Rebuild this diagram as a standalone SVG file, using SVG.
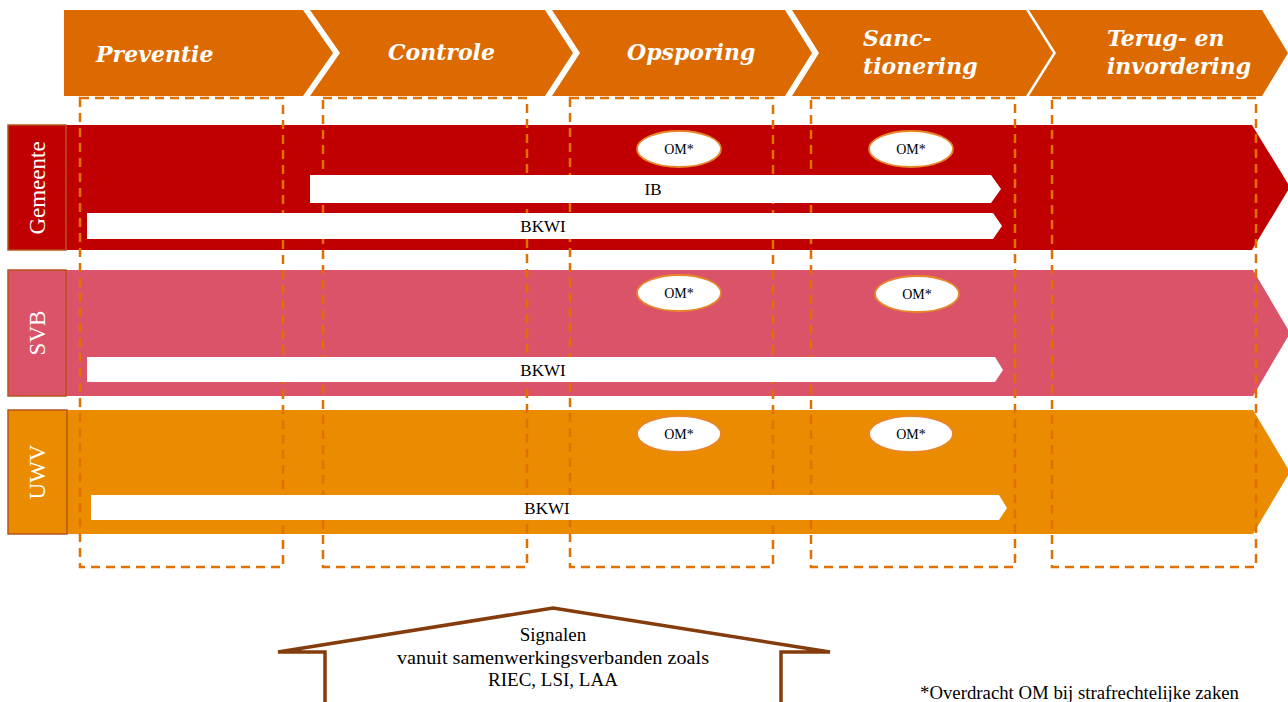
<svg xmlns="http://www.w3.org/2000/svg" width="1288" height="702" viewBox="0 0 1288 702">
<style>
.hdr{fill:#DC6A00}
.htxt{font-family:"DejaVu Serif","Liberation Serif",serif;font-weight:bold;font-style:italic;font-size:22px;fill:#FFFFFF}
.lbl{font-family:"Liberation Serif",serif;font-size:23px;fill:#FFFFFF}
.box{fill:none;stroke:#E07000;stroke-width:2.5;stroke-dasharray:9,6}
.bar{fill:#FFFFFF}
.btxt{font-family:"Liberation Serif",serif;font-size:17px;fill:#000000}
.om{fill:#FFFFFF;stroke:#E8862A;stroke-width:1.8}
.omt{font-family:"Liberation Serif",serif;font-size:14px;fill:#000000}
.house{fill:none;stroke:#843C0C;stroke-width:3.5;stroke-linejoin:miter}
.ht{font-family:"Liberation Serif",serif;font-size:19px;fill:#000000}
</style>
<rect width="1288" height="702" fill="#FFFFFF"/>

<g id="header">
  <g id="phase-preventie">
    <polygon class="hdr" points="64,10 303,10 333,53 303,96 64,96"/>
    <text class="htxt" x="96" y="62">Preventie</text>
  </g>
  <g id="phase-controle">
    <polygon class="hdr" points="310,10 545,10 573,53 545,96 310,96 340,53"/>
    <text class="htxt" x="388" y="60">Controle</text>
  </g>
  <g id="phase-opsporing">
    <polygon class="hdr" points="552,10 785,10 812,53 785,96 552,96 580,53"/>
    <text class="htxt" x="627" y="60">Opsporing</text>
  </g>
  <g id="phase-sanctionering">
    <polygon class="hdr" points="792,10 1026,10 1053,53 1026,96 792,96 819,53"/>
    <text class="htxt" x="863" y="46">Sanc-</text>
    <text class="htxt" x="863" y="74">tionering</text>
  </g>
  <g id="phase-terug">
    <polygon class="hdr" points="1029,10 1262,10 1288,53 1262,96 1029,96 1056,53"/>
    <text class="htxt" x="1107" y="46">Terug- en</text>
    <text class="htxt" x="1107" y="74">invordering</text>
  </g>
</g>

<g id="lanes">
  <g id="lane-gemeente">
    <polygon fill="#C00000" points="66,125 1252,125 1290,187 1252,250 66,250"/>
    <rect x="8" y="125" width="58" height="125" fill="#C00000" stroke="#B5541B" stroke-width="1.5"/>
    <text class="lbl" transform="translate(45,188) rotate(-90)" text-anchor="middle">Gemeente</text>
  </g>
  <g id="lane-svb">
    <polygon fill="#DB5369" points="66,270 1253,270 1290,333 1253,396 66,396"/>
    <rect x="8" y="270" width="58" height="126" fill="#DB5369" stroke="#B5541B" stroke-width="1.5"/>
    <text class="lbl" transform="translate(45,333) rotate(-90)" text-anchor="middle">SVB</text>
  </g>
  <g id="lane-uwv">
    <polygon fill="#EB8C00" points="66,410 1253,410 1290,472 1253,534 66,534"/>
    <rect x="8" y="410" width="59" height="124" fill="#EB8C00" stroke="#B5541B" stroke-width="1.5"/>
    <text class="lbl" transform="translate(45,472) rotate(-90)" text-anchor="middle">UWV</text>
  </g>
</g>

<g id="phase-boxes">
  <rect class="box" x="80" y="98" width="203" height="469"/>
  <rect class="box" x="323" y="98" width="204" height="469"/>
  <rect class="box" x="570" y="98" width="203" height="469"/>
  <rect class="box" x="811" y="98" width="204" height="469"/>
  <rect class="box" x="1052" y="98" width="204" height="469"/>
</g>

<g id="connectors">
  <g id="bar-gemeente-ib">
    <polygon class="bar" points="310,175 991,175 1001,189 991,203 310,203"/>
    <text class="btxt" x="653" y="195" text-anchor="middle">IB</text>
  </g>
  <g id="bar-gemeente-bkwi">
    <polygon class="bar" points="87,213 993,213 1002,226 993,239 87,239"/>
    <text class="btxt" x="543" y="232" text-anchor="middle">BKWI</text>
  </g>
  <g id="bar-svb-bkwi">
    <polygon class="bar" points="87,357 995,357 1003,370 995,382 87,382"/>
    <text class="btxt" x="543" y="376" text-anchor="middle">BKWI</text>
  </g>
  <g id="bar-uwv-bkwi">
    <polygon class="bar" points="91,495 999,495 1007,508 999,520 91,520"/>
    <text class="btxt" x="547" y="514" text-anchor="middle">BKWI</text>
  </g>
</g>

<g id="om-nodes">
  <g id="om-g1"><ellipse class="om" cx="679" cy="149" rx="42" ry="18"/><text class="omt" x="679" y="154" text-anchor="middle">OM*</text></g>
  <g id="om-g2"><ellipse class="om" cx="911" cy="149" rx="42" ry="18"/><text class="omt" x="911" y="154" text-anchor="middle">OM*</text></g>
  <g id="om-s1"><ellipse class="om" cx="679" cy="293" rx="42" ry="18"/><text class="omt" x="679" y="298" text-anchor="middle">OM*</text></g>
  <g id="om-s2"><ellipse class="om" cx="917" cy="294" rx="42" ry="18"/><text class="omt" x="917" y="299" text-anchor="middle">OM*</text></g>
  <g id="om-u1"><ellipse class="om" cx="679" cy="434" rx="42" ry="18"/><text class="omt" x="679" y="439" text-anchor="middle">OM*</text></g>
  <g id="om-u2"><ellipse class="om" cx="911" cy="434" rx="42" ry="18"/><text class="omt" x="911" y="439" text-anchor="middle">OM*</text></g>
</g>

<g id="signalen">
  <path class="house" d="M325,702 L325,652 L278,652 L553,608 L830,652 L781,652 L781,702"/>
  <text class="ht" x="553" y="641" text-anchor="middle">Signalen</text>
  <text class="ht" x="553" y="664" text-anchor="middle" textLength="312" lengthAdjust="spacingAndGlyphs">vanuit samenwerkingsverbanden zoals</text>
  <text class="ht" x="553" y="686" text-anchor="middle">RIEC, LSI, LAA</text>
</g>

<text id="footnote" class="ht" x="920" y="699" font-size="17" textLength="319" lengthAdjust="spacingAndGlyphs">*Overdracht OM bij strafrechtelijke zaken</text>
</svg>
